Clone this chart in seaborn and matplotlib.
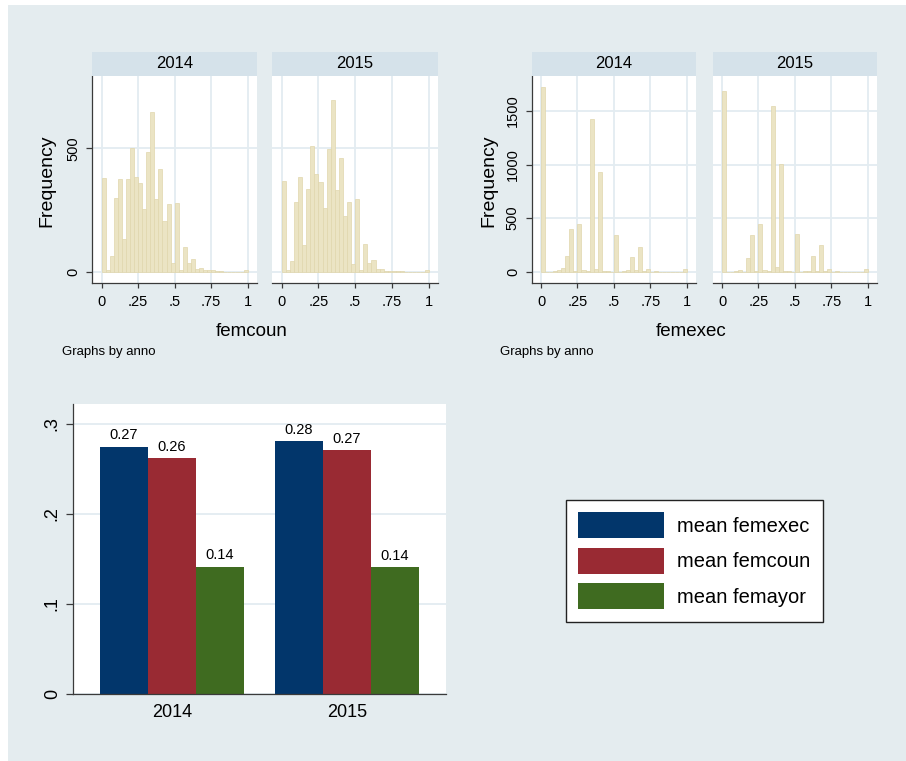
import numpy as np
import pandas as pd
import matplotlib.pyplot as plt
import seaborn as sns
from matplotlib.patches import Rectangle

# histogram counts, 36 bins of width 1/36 over [0, 1]
femcoun_2014 = [381, 7, 64, 297, 374, 131, 374, 500, 385, 358, 253, 486, 649, 293, 415, 205, 274, 34,
                277, 8, 101, 34, 50, 10, 14, 5, 5, 5, 4, 3, 0, 0, 0, 0, 0, 5]
femcoun_2015 = [369, 8, 45, 284, 385, 108, 335, 509, 395, 362, 257, 497, 696, 331, 462, 226, 284, 31,
                295, 7, 112, 36, 47, 12, 9, 4, 4, 4, 4, 3, 0, 0, 0, 0, 0, 5]
femexec_2014 = [1720, 0, 0, 6, 20, 30, 145, 400, 3, 441, 15, 6, 1426, 22, 926, 9, 9, 0,
                346, 0, 6, 15, 133, 15, 231, 9, 25, 0, 9, 0, 0, 0, 0, 0, 0, 25]
femexec_2015 = [1688, 0, 0, 6, 15, 0, 123, 340, 5, 448, 15, 10, 1549, 40, 1009, 10, 8, 0,
                349, 0, 5, 10, 145, 10, 247, 5, 22, 0, 10, 0, 0, 0, 0, 0, 0, 22]
n_bins = 36

hist_xticks = [0, 0.25, 0.5, 0.75, 1]
hist_xticklabels = ['0', '.25', '.5', '.75', '1']
femcoun_yticks = [0, 500]
femexec_yticks = [0, 500, 1000, 1500]

# means by year
years = ['2014', '2015']
mean_femexec = [0.2748, 0.2811]
mean_femcoun = [0.2622, 0.2711]
mean_femayor = [0.1415, 0.1407]
series_names = ['mean femexec', 'mean femcoun', 'mean femayor']
bar_yticks = [0, 0.1, 0.2, 0.3]
bar_yticklabels = ['0', '.1', '.2', '.3']

BG = '#e4ecef'
STRIP = '#d5e2ea'
GRID = '#e3ecf1'
FILL = '#ebe4c4'
EDGE = '#e0d6ad'
AXC = '#3a3a3a'
BAR_COLORS = ['#02366b', '#992a33', '#3f6b20']

plt.rcParams['font.family'] = ['Liberation Sans', 'DejaVu Sans']

W, H = 906, 761
fig = plt.figure(figsize=(W / 100, H / 100), dpi=100)
fig.patch.set_facecolor('white')
fig.patches.append(Rectangle((8 / W, 0), 1 - 8 / W, 1 - 5 / H, transform=fig.transFigure,
                             facecolor=BG, edgecolor='none', zorder=-10))


def px_axes(x0, y0, x1, y1):
    # box in pixels, y measured from the top
    return fig.add_axes([x0 / W, 1 - y1 / H, (x1 - x0) / W, (y1 - y0) / H])


centers = (np.arange(n_bins) + 0.5) / n_bins


def hist_panel(x0, x1, counts, year, yticks, ylim, first):
    ax = px_axes(x0, 76, x1, 282.7)
    ax.set_facecolor('white')
    d = pd.DataFrame({'x': centers, 'w': counts})
    sns.histplot(data=d, x='x', weights='w', bins=n_bins, binrange=(0, 1), ax=ax,
                 color=FILL, edgecolor=EDGE, linewidth=0.5, alpha=1)
    ax.set_xlim(-0.064, 1.062)
    ax.set_ylim(*ylim)
    ax.set_xticks(hist_xticks, hist_xticklabels)
    ax.set_yticks(yticks, [str(t) for t in yticks])
    ax.grid(True, color=GRID, linewidth=1.3)
    ax.set_axisbelow(True)
    ax.set_xlabel('')
    ax.set_ylabel('')
    for s in ['top', 'right']:
        ax.spines[s].set_visible(False)
    for s in ['left', 'bottom']:
        ax.spines[s].set_color(AXC)
        ax.spines[s].set_linewidth(0.9)
    ax.tick_params(axis='x', direction='out', length=3.6, width=0.9, color=AXC, labelsize=10.5, pad=5.5)
    ax.tick_params(axis='y', direction='out', length=4, width=0.9, color=AXC, labelsize=10.5, pad=4.5,
                   labelrotation=90)
    for lab in ax.get_yticklabels():
        lab.set_va('center')
        lab.set_ha('right')
    if not first:
        ax.spines['left'].set_visible(False)
        ax.tick_params(axis='y', left=False, labelleft=False)
    strip = px_axes(x0, 51.7, x1, 76)
    strip.set_facecolor(STRIP)
    strip.set_xticks([])
    strip.set_yticks([])
    for s in strip.spines.values():
        s.set_visible(False)
    strip.text(0.5, 0.5, year, ha='center', va='center', fontsize=12, transform=strip.transAxes)
    return ax


hist_panel(92.3, 256.7, femcoun_2014, '2014', femcoun_yticks, (-44.6, 793), True)
hist_panel(272.3, 437.7, femcoun_2015, '2015', femcoun_yticks, (-44.6, 793), False)
hist_panel(531.7, 695.7, femexec_2014, '2014', femexec_yticks, (-103, 1827), True)
hist_panel(712.7, 876.7, femexec_2015, '2015', femexec_yticks, (-103, 1827), False)

fig.text(47 / W, 1 - 181 / H, 'Frequency', rotation=90, ha='center', va='center', fontsize=14)
fig.text(489 / W, 1 - 181 / H, 'Frequency', rotation=90, ha='center', va='center', fontsize=14)
fig.text(251.5 / W, 1 - 331 / H, 'femcoun', ha='center', va='center', fontsize=13.5)
fig.text(691 / W, 1 - 331 / H, 'femexec', ha='center', va='center', fontsize=13.5)
fig.text(61.7 / W, 1 - 352 / H, 'Graphs by anno', ha='left', va='center', fontsize=9.5)
fig.text(500 / W, 1 - 352 / H, 'Graphs by anno', ha='left', va='center', fontsize=9.5)

# grouped bar chart of the means
bar_df = pd.DataFrame({
    'anno': years * 3,
    'stat': [n for n in series_names for _ in years],
    'value': mean_femexec + mean_femcoun + mean_femayor,
})
ax = px_axes(73.3, 404, 445.7, 694)
ax.set_facecolor('white')
sns.barplot(data=bar_df, x='anno', y='value', hue='stat', hue_order=series_names,
            palette=BAR_COLORS, width=0.823, saturation=1, linewidth=0, ax=ax)
for c in ax.containers:
    ax.bar_label(c, fmt='%.2f', padding=3, fontsize=10.5)
ax.set_xlim(-0.564, 1.564)
ax.set_ylim(0, 0.322)
ax.set_yticks(bar_yticks, bar_yticklabels)
ax.yaxis.grid(True, color=GRID, linewidth=1.3)
ax.xaxis.grid(False)
ax.set_axisbelow(True)
ax.set_xlabel('')
ax.set_ylabel('')
for s in ['top', 'right']:
    ax.spines[s].set_visible(False)
for s in ['left', 'bottom']:
    ax.spines[s].set_color(AXC)
    ax.spines[s].set_linewidth(0.9)
ax.tick_params(axis='x', length=0, labelsize=13, pad=7.5)
ax.tick_params(axis='y', direction='out', length=5, width=0.9, color=AXC, labelsize=13, pad=4,
               labelrotation=90)
for lab in ax.get_yticklabels():
    lab.set_va('center')
    lab.set_ha('right')

handles, labels = ax.get_legend_handles_labels()
ax.get_legend().remove()
leg = fig.legend(handles, labels, loc='upper left', bbox_to_anchor=(566 / W, 1 - 500 / H),
                 frameon=True, fancybox=False, edgecolor='#222222', facecolor='white',
                 framealpha=1, fontsize=14.5, handlelength=4.26, handleheight=1.62,
                 labelspacing=0.47, handletextpad=0.66, borderpad=0.6, borderaxespad=0)
leg.get_frame().set_linewidth(1)

fig.savefig('out.png', dpi=100)
